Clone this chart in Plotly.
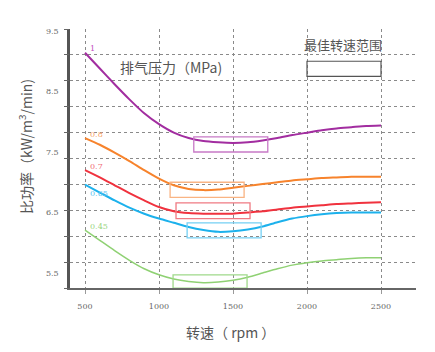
import plotly.graph_objects as go

rpm = [500, 600, 700, 800, 900, 1000, 1100, 1200, 1300, 1400, 1500,
       1600, 1700, 1800, 1900, 2000, 2100, 2200, 2300, 2400, 2500]

p_1_0 = [9.14, 8.88, 8.62, 8.37, 8.14, 7.96, 7.82, 7.73, 7.68, 7.66, 7.65,
         7.66, 7.69, 7.73, 7.78, 7.82, 7.86, 7.89, 7.91, 7.93, 7.94]
p_0_8 = [7.73, 7.62, 7.49, 7.35, 7.20, 7.06, 6.95, 6.89, 6.87, 6.88, 6.91,
         6.94, 6.97, 7.00, 7.03, 7.05, 7.07, 7.08, 7.09, 7.09, 7.09]
p_0_7 = [7.20, 7.08, 6.95, 6.82, 6.70, 6.59, 6.52, 6.49, 6.48, 6.48, 6.48,
         6.50, 6.52, 6.55, 6.58, 6.60, 6.62, 6.64, 6.65, 6.66, 6.67]
p_0_65 = [6.96, 6.83, 6.70, 6.58, 6.48, 6.40, 6.33, 6.26, 6.21, 6.18, 6.19,
          6.22, 6.27, 6.34, 6.40, 6.44, 6.47, 6.49, 6.50, 6.50, 6.50]
p_0_45 = [6.21, 6.04, 5.87, 5.71, 5.57, 5.47, 5.40, 5.36, 5.34, 5.35, 5.38,
          5.43, 5.50, 5.57, 5.63, 5.67, 5.70, 5.72, 5.74, 5.75, 5.75]

series_names = ["1", "0.8", "0.7", "0.65", "0.45"]
series_vals = [p_1_0, p_0_8, p_0_7, p_0_65, p_0_45]
line_colors = ["#a22da0", "#f7832c", "#f0323e", "#1cb1ec", "#8fd173"]
box_colors = ["#c779c6", "#f9b483", "#f07a82", "#74d0f4", "#9fd98a"]
label_colors = ["#c24cbf", "#f7a065", "#f06a74", "#5cc4ef", "#9cd684"]
line_widths = [2, 2, 2, 2, 1.5]

# optimal-speed ranges (rpm) and their value bands
box_x0 = [1235, 1075, 1115, 1190, 1095]
box_x1 = [1735, 1575, 1615, 1690, 1595]
box_y0 = [7.50, 6.75, 6.40, 6.08, 5.25]
box_y1 = [7.75, 7.00, 6.66, 6.33, 5.47]

legend_box = dict(x0=2000, x1=2500, y0=8.75, y1=9.0)

x_ticks = [500, 1000, 1500, 2000, 2500]
y_ticks = [5.5, 6.5, 7.5, 8.5, 9.5]
y_tick_text = ["5.5", "6.5", "7.5", "8.5", "9.5"]

fig = go.Figure()

for name, vals, lc, lw in zip(series_names, series_vals, line_colors, line_widths):
    fig.add_trace(go.Scatter(x=rpm, y=vals, mode="lines", name=name,
                             line=dict(color=lc, width=lw, shape="spline", smoothing=0.6),
                             showlegend=False, hoverinfo="skip"))

# empty helper trace to activate the grid axis
fig.add_trace(go.Scatter(x=[None], y=[None], yaxis="y2", showlegend=False,
                         hoverinfo="skip"))

shapes = []
for x0, x1, y0, y1, bc in zip(box_x0, box_x1, box_y0, box_y1, box_colors):
    shapes.append(dict(type="rect", xref="x", yref="y", x0=x0, x1=x1, y0=y0, y1=y1,
                       line=dict(color=bc, width=1.3), fillcolor="rgba(0,0,0,0)"))
shapes.append(dict(type="rect", xref="x", yref="y", **legend_box,
                   line=dict(color="#555555", width=1.2), fillcolor="rgba(0,0,0,0)"))

annotations = []
for name, vals, c in zip(series_names, series_vals, label_colors):
    yshift = -9 if name == "0.65" else 4
    annotations.append(dict(x=rpm[0], y=vals[0], xref="x", yref="y", text=name,
                            showarrow=False, xanchor="left", yanchor="middle",
                            xshift=3, yshift=yshift,
                            font=dict(family="DejaVu Serif", size=8, color=c)))

annotations += [
    dict(x=(171 - 70) / 346, y=(288 - 67) / 259, xref="paper", yref="paper",
         text="排气压力（MPa)", showarrow=False, xanchor="center", yanchor="middle",
         font=dict(family="Noto Sans CJK SC", size=14, color="#555555")),
    dict(x=(343 - 70) / 346, y=(288 - 44) / 259, xref="paper", yref="paper",
         text="最佳转速范围", showarrow=False, xanchor="center", yanchor="middle",
         font=dict(family="Noto Sans CJK SC", size=13, color="#555555")),
    dict(x=(230 - 70) / 346, y=(288 - 332) / 259, xref="paper", yref="paper",
         text="转速（ rpm ）", showarrow=False, xanchor="center", yanchor="middle",
         font=dict(family="Noto Sans CJK SC", size=14, color="#555555")),
    dict(x=(25 - 70) / 346, y=(288 - 147) / 259, xref="paper", yref="paper",
         text="比功率（kW/m<sup>3</sup>/min)", showarrow=False, textangle=-90,
         xanchor="center", yanchor="middle",
         font=dict(family="Noto Sans CJK SC", size=14, color="#555555")),
]

fig.update_layout(
    width=435, height=352,
    margin=dict(l=70, r=19, t=29, b=64),
    paper_bgcolor="white", plot_bgcolor="white",
    xaxis=dict(range=[398.6, 2736.5], tickvals=x_ticks,
               showgrid=True, gridcolor="#8a8a8a", griddash="dot", gridwidth=1,
               showline=True, linecolor="#666666", linewidth=1.5,
               ticks="outside", ticklen=4, tickcolor="#9a9a9a",
               ticklabelstandoff=6, zeroline=False,
               tickfont=dict(family="DejaVu Serif", size=8, color="#666666")),
    yaxis=dict(range=[5.252, 9.533], tickvals=y_ticks, ticktext=y_tick_text,
               showgrid=False, zeroline=False,
               showline=True, linecolor="#555555", linewidth=2.5,
               ticks="", ticklabelstandoff=7,
               tickfont=dict(family="DejaVu Serif", size=8, color="#666666")),
    yaxis2=dict(range=[0, 10], tickvals=list(range(0, 11)), overlaying="y",
                side="left", showticklabels=False, ticks="outside", ticklen=5,
                tickcolor="#666666", showgrid=True, gridcolor="#8a8a8a",
                griddash="dot", gridwidth=1, zeroline=False, showline=False),
    shapes=shapes,
    annotations=annotations,
)

fig.write_html("out.html")
